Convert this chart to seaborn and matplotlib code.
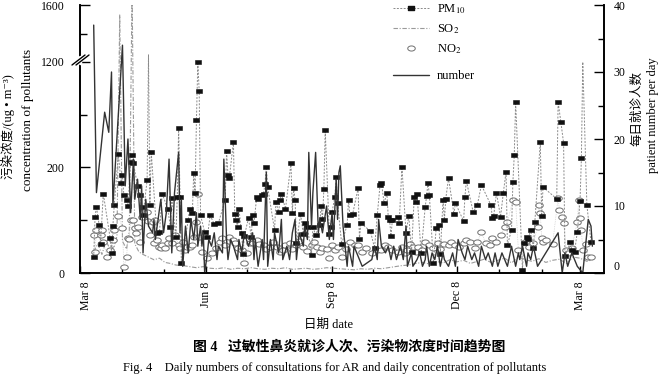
import numpy as np
import matplotlib
matplotlib.use('Agg')
import matplotlib.pyplot as plt
import matplotlib.transforms as mtransforms
import seaborn as sns
from matplotlib.path import Path
from matplotlib.lines import Line2D

# ---------------- data (day index counted from Mar 8) ----------------
tick_days = [0, 92, 184, 275, 365]
tick_labels = ['Mar 8', 'Jun 8', 'Sep 8', 'Dec 8', 'Mar 8']
month_days = [31, 61, 122, 153, 214, 245, 306, 337]

pm10_day = [10, 11, 12, 14, 15, 17, 22, 23, 24, 25,
            28, 30, 31, 32, 34, 35, 37, 38, 39, 42,
            44, 45, 46, 49, 50, 51, 52, 56, 58, 60,
            64, 66, 67, 70, 71, 72, 73, 74, 79, 80,
            82, 83, 84, 85, 86, 87, 88, 91, 93, 95,
            98, 101, 106, 107, 108, 109, 112, 113, 114, 115,
            116, 118, 119, 120, 123, 125, 126, 127, 129, 130,
            133, 134, 135, 136, 137, 142, 143, 145, 146, 147,
            150, 154, 155, 156, 157, 158, 161, 163, 164, 166,
            169, 170, 172, 175, 176, 177, 178, 179, 182, 183,
            184, 186, 187, 188, 191, 195, 196, 197, 199, 203,
            204, 205, 212, 215, 217, 219, 220, 222, 224, 225,
            226, 227, 228, 232, 233, 235, 238, 240, 242, 244,
            245, 246, 249, 252, 253, 254, 255, 258, 260, 262,
            263, 265, 266, 267, 269, 273, 274, 280, 281, 282,
            287, 290, 293, 300, 301, 302, 304, 307, 309, 311,
            312, 315, 316, 317, 318, 323, 324, 326, 327, 329,
            331, 332, 336, 337, 338, 348, 349, 351, 353, 354,
            358, 359, 361, 363, 365, 366, 367, 370, 373]
pm10_val = [30, 106, 125, 90, 55, 150, 66, 38, 89, 128,
            324, 170, 185, 147, 138, 126, 248, 314, 238, 164,
            147, 125, 109, 175, 1250, 128, 343, 75, 77, 150,
            121, 87, 142, 68, 144, 571, 144, 19, 100, 121,
            113, 189, 151, 648, 1200, 924, 109, 77, 68, 109,
            92, 94, 138, 352, 185, 180, 438, 111, 100, 87,
            121, 75, 36, 70, 104, 68, 109, 94, 144, 140,
            147, 149, 168, 202, 162, 81, 134, 115, 138, 149,
            121, 238, 113, 160, 138, 57, 111, 74, 94, 87,
            34, 87, 72, 91, 126, 102, 158, 552, 74, 87,
            115, 144, 181, 132, 55, 91, 138, 109, 111, 160,
            64, 94, 79, 47, 109, 166, 170, 132, 151, 106,
            100, 70, 100, 106, 94, 200, 75, 108, 40, 144,
            134, 149, 38, 125, 145, 170, 148, 19, 85, 91,
            36, 138, 100, 140, 179, 111, 132, 98, 144, 174,
            115, 128, 166, 128, 104, 108, 151, 106, 151, 191,
            53, 81, 172, 314, 819, 6, 57, 68, 64, 81,
            47, 96, 438, 108, 162, 140, 819, 629, 429, 32,
            58, 43, 40, 77, 136, 286, 1200, 128, 58]

so2_day = [10, 13, 16, 19, 22, 25, 27, 29, 31, 34,
           36, 38, 40, 43, 46, 50, 54, 58, 62, 66,
           70, 75, 80, 85, 90, 95, 100, 105, 110, 115,
           120, 125, 130, 135, 140, 145, 150, 155, 160, 165,
           170, 175, 180, 185, 190, 195, 200, 205, 210, 215,
           220, 225, 230, 235, 240, 245, 250, 255, 260, 265,
           270, 275, 280, 285, 290, 295, 300, 305, 310, 315,
           320, 325, 330, 335, 340, 345, 350, 355, 360, 365,
           370, 374]
so2_val = [40, 55, 35, 60, 45, 50, 70, 1530, 60, 45,
           80, 1700, 55, 40, 35, 30, 25, 28, 20, 18,
           15, 14, 12, 10, 12, 9, 8, 10, 7, 9,
           8, 10, 8, 7, 9, 8, 10, 7, 8, 9,
           7, 8, 10, 9, 8, 7, 6, 8, 7, 9,
           8, 10, 12, 14, 15, 18, 20, 17, 22, 19,
           25, 21, 24, 18, 22, 26, 20, 24, 28, 19,
           30, 25, 22, 27, 20, 24, 26, 18, 30, 28,
           22, 25]

no2_day = [10, 11, 12, 15, 16, 17, 20, 22, 24, 25,
           28, 31, 32, 34, 35, 36, 37, 39, 40, 41,
           42, 44, 45, 49, 50, 51, 53, 54, 55, 56,
           58, 59, 60, 62, 64, 65, 67, 69, 72, 73,
           75, 77, 78, 80, 82, 83, 85, 86, 87, 89,
           93, 96, 99, 102, 104, 106, 109, 112, 113, 115,
           118, 120, 122, 124, 126, 129, 131, 134, 136, 139,
           141, 144, 146, 148, 150, 153, 155, 158, 160, 163,
           166, 169, 171, 173, 175, 177, 180, 182, 184, 186,
           188, 191, 194, 197, 201, 203, 206, 209, 213, 217,
           220, 223, 225, 228, 232, 235, 237, 239, 241, 243,
           245, 247, 250, 252, 255, 258, 261, 263, 266, 269,
           271, 274, 277, 280, 282, 285, 288, 290, 293, 296,
           299, 301, 304, 307, 310, 312, 316, 318, 320, 325,
           328, 331, 334, 335, 336, 337, 338, 340, 345, 349,
           350, 352, 353, 355, 356, 359, 363, 364, 365, 366,
           367, 369, 371, 373]
no2_val = [72, 40, 81, 72, 81, 58, 30, 43, 62, 81,
           108, 85, 11, 30, 66, 64, 100, 100, 85, 75,
           87, 58, 106, 115, 98, 72, 96, 57, 100, 62,
           49, 47, 53, 47, 57, 66, 57, 72, 53, 47,
           58, 43, 49, 49, 53, 68, 96, 150, 68, 40,
           28, 38, 47, 58, 66, 52, 68, 62, 57, 48,
           43, 19, 38, 57, 57, 62, 55, 53, 45, 49,
           58, 49, 40, 43, 52, 57, 45, 53, 60, 49,
           42, 53, 58, 49, 40, 47, 45, 28, 52, 43,
           49, 30, 45, 58, 53, 53, 40, 48, 38, 43,
           43, 52, 49, 43, 40, 49, 38, 43, 55, 49,
           40, 49, 43, 58, 53, 48, 57, 45, 55, 53,
           58, 53, 50, 57, 62, 58, 48, 58, 77, 57,
           52, 66, 58, 72, 87, 96, 138, 134, 43, 58,
           50, 57, 87, 128, 113, 66, 58, 62, 55, 142,
           119, 106, 94, 43, 38, 48, 96, 138, 104, 81,
           43, 55, 30, 30]

num_day = [10, 12, 18, 21, 23, 24, 31, 33, 35, 37,
           39, 40, 42, 44, 45, 46, 48, 50, 53, 54,
           55, 57, 59, 61, 63, 65, 67, 69, 72, 73,
           74, 75, 77, 79, 81, 83, 85, 86, 88, 89,
           90, 91, 93, 94, 96, 98, 100, 101, 104, 105,
           107, 108, 110, 112, 115, 116, 118, 120, 123, 126,
           127, 128, 130, 133, 134, 136, 137, 139, 141, 142,
           145, 147, 148, 151, 153, 155, 157, 158, 160, 163,
           164, 166, 167, 169, 170, 172, 174, 175, 177, 180,
           182, 184, 185, 187, 188, 189, 190, 192, 195, 196,
           199, 200, 202, 204, 206, 213, 215, 217, 218, 220,
           223, 225, 227, 229, 231, 234, 236, 238, 239, 242,
           243, 246, 248, 250, 252, 253, 255, 257, 259, 261,
           263, 265, 266, 269, 272, 274, 276, 279, 281, 283,
           286, 288, 291, 293, 296, 298, 301, 303, 305, 308,
           310, 312, 315, 318, 320, 321, 323, 326, 327, 329,
           331, 334, 337, 349, 352, 354, 356, 359, 361, 363,
           367, 370, 371, 373, 374]
num_val = [37, 12, 24, 21, 30, 10, 34, 13, 20, 9,
           17, 11, 14, 8, 13, 3, 11, 7, 6, 8,
           5, 8, 11, 6, 9, 17, 3, 12, 18, 6,
           11, 1, 7, 3, 8, 5, 9, 4, 7, 4,
           6, 0, 3, 5, 4, 6, 2, 4, 3, 17,
           5, 2, 5, 4, 2, 5, 3, 6, 4, 6,
           2, 5, 1, 5, 2, 15, 1, 5, 2, 6,
           3, 8, 2, 4, 2, 6, 8, 2, 6, 4,
           7, 5, 18, 7, 12, 18, 6, 8, 6, 10,
           5, 9, 5, 14, 8, 15, 16, 7, 1, 4,
           1, 4, 3, 2, 1, 2, 4, 2, 8, 4,
           3, 4, 2, 4, 2, 4, 2, 7, 1, 3,
           1, 2, 3, 1, 2, 4, 1, 3, 2, 4,
           1, 3, 2, 1, 3, 1, 5, 3, 2, 4,
           2, 3, 1, 4, 2, 3, 1, 3, 1, 3,
           2, 1, 4, 1, 3, 2, 4, 1, 3, 2,
           4, 1, 2, 6, 0, 3, 1, 3, 2, 1,
           0, 6, 8, 7, 4]

# ---------------- style ----------------
sns.set_theme(style='white', rc={'axes.edgecolor': 'black', 'text.color': 'black',
                                 'xtick.color': 'black', 'ytick.color': 'black',
                                 'axes.labelcolor': 'black'})
plt.rcParams['font.family'] = ['Liberation Serif', 'Noto Sans CJK SC', 'DejaVu Sans']
plt.rcParams['mathtext.fontset'] = 'stix'

W, H = 660, 376
fig = plt.figure(figsize=(W / 100, H / 100), dpi=100)
L, R, T, B = 80, 604, 5, 273
ax = fig.add_axes([L / W, 1 - B / H, (R - L) / W, (B - T) / H])

# broken (piecewise linear) left scale
BV = np.array([-1000., 0., 200., 1200., 1600., 5000.])
BP = np.array([-530., 0., 106., 211., 268., 752.5])
def fwd(v):
    return np.interp(v, BV, BP)
def inv(p):
    return np.interp(p, BP, BV)
ax.set_yscale('function', functions=(fwd, inv))

rect = Path([(-1, -0.7), (1, -0.7), (1, 0.7), (-1, 0.7), (-1, -0.7)], closed=True)
tt = np.linspace(0, 2 * np.pi, 41)
ell = Path(np.c_[np.cos(tt), 0.68 * np.sin(tt)], closed=True)

skip = {50, 367}
pm_mark = [i for i, d in enumerate(pm10_day) if d not in skip]

sns.lineplot(x=so2_day, y=so2_val, ax=ax, estimator=None, color='#9a9a9a',
             lw=0.8, ls=(0, (4, 1.5, 1, 1.5)))
sns.lineplot(x=no2_day, y=no2_val, ax=ax, estimator=None, color='#c4c4c4',
             lw=0.5, ls=(0, (1, 1.5)), marker=ell, markersize=5.4,
             markerfacecolor='white', markeredgecolor='#6e6e6e', markeredgewidth=0.7)
sns.lineplot(x=pm10_day, y=pm10_val, ax=ax, estimator=None, color='#8a8a8a',
             lw=0.7, ls=(0, (2, 1.5)), marker=rect, markersize=4.4,
             markerfacecolor='#111111', markeredgecolor='#111111', markeredgewidth=0.4,
             markevery=pm_mark)

ax.set_xlim(0, 382.5)
ax.set_ylim(0, 1600)
ax.set_yticks([0, 200, 1200, 1600])
ax.set_yticklabels(['0', '200', '1200', '1600'])
ax.set_yticks([100, 700, 1400], minor=True)
ax.set_xticks(tick_days)
ax.set_xticklabels(tick_labels)
ax.set_xticks(month_days, minor=True)
ax.set_xlabel('')
ax.set_ylabel('')

ax2 = ax.twinx()
sns.lineplot(x=num_day, y=num_val, ax=ax2, estimator=None, color='#333333', lw=1.0)
ax2.set_ylim(0, 40)
ax2.set_yticks([0, 10, 20, 30, 40])
ax2.set_yticks([5, 15, 25, 35], minor=True)
ax2.set_xlim(0, 382.5)
ax2.set_ylabel('')
ax2.set_xlabel('')

for a in (ax, ax2):
    a.spines['top'].set_visible(False)
    for s in ('left', 'right', 'bottom'):
        a.spines[s].set_linewidth(1.2)
        a.spines[s].set_color('black')
    a.grid(False)

ax.tick_params(axis='y', which='major', direction='in', left=True, length=7, width=1,
               pad=11, labelsize=8.5)
ax.tick_params(axis='y', which='minor', direction='in', left=True, length=5, width=1)
ax.tick_params(axis='x', which='major', direction='in', bottom=True, length=5, width=1,
               pad=6, labelsize=8.5, labelrotation=90)
ax.tick_params(axis='x', which='minor', direction='in', bottom=True, length=3, width=1)
ax2.tick_params(axis='y', which='major', direction='in', right=True, length=7, width=1,
                pad=7, labelsize=8.5)
ax2.tick_params(axis='y', which='minor', direction='in', right=True, length=4, width=1)

# first date label sits slightly right of the axis corner, as in the original
first = ax.get_xticklabels()[0]
first.set_transform(first.get_transform() +
                    mtransforms.ScaledTranslation(6 / 100, 0, fig.dpi_scale_trans))
zero_r = ax2.get_yticklabels()[0]
zero_r.set_transform(zero_r.get_transform() +
                     mtransforms.ScaledTranslation(0, 7 / 100, fig.dpi_scale_trans))

# axis break mark on the left spine
def fx(x):
    return x / W
def fy(y):
    return 1 - y / H
fig.add_artist(Line2D([fx(L), fx(L)], [fy(57), fy(63)], transform=fig.transFigure,
                      color='white', lw=2.5, zorder=10))
for dx in (0, 4):
    fig.add_artist(Line2D([fx(72 + dx), fx(85 + dx)], [fy(65), fy(55)],
                          transform=fig.transFigure, color='black', lw=1.0, zorder=11))

# legend
h_pm = Line2D([], [], color='#8a8a8a', lw=0.7, ls=(0, (2, 1.5)), marker=rect, markersize=4.4,
              markerfacecolor='#111111', markeredgecolor='#111111')
h_so = Line2D([], [], color='#9a9a9a', lw=0.8, ls=(0, (4, 1.5, 1, 1.5)))
h_no = Line2D([], [], ls='none', marker=ell, markersize=5.4, markerfacecolor='white',
              markeredgecolor='#6e6e6e', markeredgewidth=0.7)
h_num = Line2D([], [], color='#333333', lw=1.0)
leg1 = ax2.legend([h_pm, h_so, h_no], [r'PM$_{10}$', r'SO$_2$', r'NO$_2$'],
                  loc='upper left', bbox_to_anchor=(fx(393), fy(2)),
                  bbox_transform=fig.transFigure, frameon=False, fontsize=9,
                  handlelength=2.9, handletextpad=0.6, labelspacing=0.5,
                  borderpad=0, borderaxespad=0)
ax2.add_artist(leg1)
ax2.legend([h_num], ['number'], loc='upper left', bbox_to_anchor=(fx(393), fy(70)),
           bbox_transform=fig.transFigure, frameon=False, fontsize=9,
           handlelength=2.9, handletextpad=0.6, borderpad=0, borderaxespad=0)

# texts
fig.text(fx(8), fy(127), '污染浓度/(ug • m\u207b\u00b3)', rotation=90, ha='center',
         va='center', fontsize=9)
fig.text(fx(28), fy(120), 'concentration of pollutants', rotation=90, ha='center',
         va='center', fontsize=9.5)
fig.text(fx(637), fy(108), '每日就诊人数', rotation=90, ha='center', va='center', fontsize=9)
fig.text(fx(653), fy(115), 'patient number per day', rotation=90, ha='center', va='center',
         fontsize=9)
fig.text(fx(328), fy(325), '日期 date', ha='center', va='center', fontsize=9)
fig.text(fx(349), fy(347), '图 4   过敏性鼻炎就诊人次、污染物浓度时间趋势图', ha='center',
         va='center', fontsize=10, fontweight='bold')
fig.text(fx(335), fy(368),
         'Fig. 4    Daily numbers of consultations for AR and daily concentration of pollutants',
         ha='center', va='center', fontsize=9)

fig.savefig('out.png', dpi=100)
